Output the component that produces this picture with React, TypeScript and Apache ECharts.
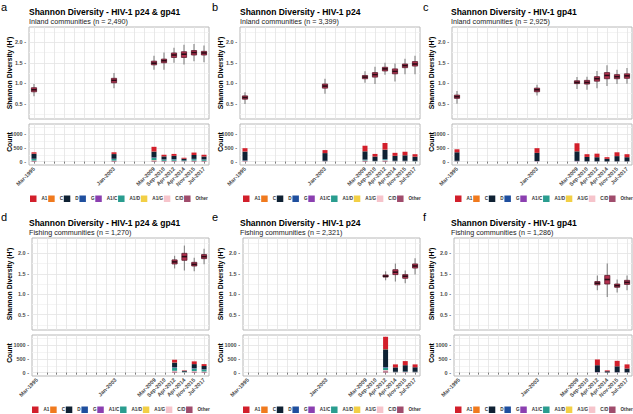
import React, { useEffect, useRef } from 'react';
import * as echarts from 'echarts';

// ---------- DATA ----------
const SLOT_KEYS = Array.from({ length: 18 }, (_, i) => 's' + i);
const ROUNDS = ['Mar-1995', 'Jan-2003', 'Mar-2009', 'Sep-2010', 'Apr-2012', 'Apr-2014', 'Nov-2015', 'Jul-2017'];
const ROUND_SLOT = [0, 8, 12, 13, 14, 15, 16, 17];
const SUBTYPES = ['A1', 'C', 'D', 'G', 'A1/C', 'A1/D', 'A1/G', 'C/D', 'Other'];
const SUBTYPE_COLORS = ['#d21f2b', '#f07a1e', '#0f2133', '#1f4f9e', '#8b3fb0', '#2a9d8f', '#f2cf45', '#f6c4cb', '#a04c6c'];
const SHANNON_TICKS = [0.5, 1.0, 1.5, 2.0];
const COUNT_TICKS = [0, 500, 1000];

const N = null;
// Shannon diversity: median, whisker low/high, box low/high, per round
const a_med = [0.84, 1.07, 1.49, 1.55, 1.69, 1.71, 1.75, 1.74];
const a_lo = [0.68, 0.88, 1.33, 1.33, 1.50, 1.46, 1.54, 1.51];
const a_hi = [0.98, 1.25, 1.67, 1.75, 1.87, 1.94, 1.96, 1.92];
const a_q1 = [0.79, 1.01, 1.45, 1.50, 1.63, 1.63, 1.69, 1.69];
const a_q3 = [0.89, 1.12, 1.54, 1.59, 1.74, 1.77, 1.80, 1.78];

const b_med = [0.65, 0.93, 1.15, 1.21, 1.35, 1.29, 1.43, 1.47];
const b_lo = [0.49, 0.74, 1.01, 0.98, 1.21, 1.04, 1.22, 1.22];
const b_hi = [0.78, 1.11, 1.29, 1.40, 1.50, 1.48, 1.60, 1.67];
const b_q1 = [0.61, 0.88, 1.11, 1.15, 1.30, 1.23, 1.38, 1.42];
const b_q3 = [0.69, 0.98, 1.19, 1.26, 1.39, 1.35, 1.47, 1.53];

const c_med = [0.67, 0.84, 1.02, 1.02, 1.11, 1.19, 1.16, 1.18];
const c_lo = [0.50, 0.70, 0.86, 0.84, 0.88, 0.93, 0.98, 0.99];
const c_hi = [0.81, 0.96, 1.15, 1.16, 1.30, 1.44, 1.33, 1.37];
const c_q1 = [0.63, 0.79, 0.99, 0.98, 1.05, 1.11, 1.11, 1.12];
const c_q3 = [0.71, 0.88, 1.06, 1.07, 1.16, 1.26, 1.21, 1.23];

const d_med = [N, N, N, N, 1.79, 1.92, 1.73, 1.92];
const d_lo = [N, N, N, N, 1.63, 1.58, 1.56, 1.73];
const d_hi = [N, N, N, N, 1.94, 2.19, 1.89, 2.11];
const d_q1 = [N, N, N, N, 1.74, 1.83, 1.69, 1.87];
const d_q3 = [N, N, N, N, 1.84, 2.00, 1.78, 1.97];

const e_med = [N, N, N, N, 1.44, 1.54, 1.44, 1.69];
const e_lo = [N, N, N, N, 1.34, 1.31, 1.27, 1.48];
const e_hi = [N, N, N, N, 1.56, 1.75, 1.58, 1.88];
const e_q1 = [N, N, N, N, 1.42, 1.48, 1.39, 1.64];
const e_q3 = [N, N, N, N, 1.47, 1.60, 1.48, 1.74];

const f_med = [N, N, N, N, 1.27, 1.36, 1.21, 1.29];
const f_lo = [N, N, N, N, 1.10, 0.93, 1.04, 1.10];
const f_hi = [N, N, N, N, 1.46, 1.75, 1.36, 1.46];
const f_q1 = [N, N, N, N, 1.23, 1.25, 1.17, 1.24];
const f_q3 = [N, N, N, N, 1.31, 1.46, 1.25, 1.34];

// Counts per subtype (rows in SUBTYPES order), per round
const a_counts = [
  [50, 60, 170, 60, 70, 35, 90, 65],
  [5, 5, 5, 0, 0, 0, 0, 0],
  [180, 170, 210, 110, 120, 60, 140, 105],
  [5, 5, 10, 3, 5, 3, 5, 4],
  [5, 5, 10, 4, 5, 0, 5, 3],
  [60, 60, 80, 45, 50, 25, 55, 45],
  [0, 0, 5, 0, 0, 0, 0, 0],
  [15, 10, 15, 8, 10, 5, 10, 8],
  [20, 25, 35, 20, 20, 12, 25, 20],
];
const b_counts = [
  [120, 110, 200, 95, 240, 110, 130, 90],
  [5, 0, 5, 0, 5, 0, 0, 0],
  [320, 280, 300, 160, 340, 180, 200, 155],
  [10, 10, 10, 4, 10, 5, 5, 3],
  [0, 0, 0, 0, 0, 0, 0, 0],
  [10, 5, 25, 8, 35, 10, 10, 10],
  [0, 0, 0, 0, 0, 0, 0, 0],
  [10, 5, 15, 5, 20, 5, 5, 4],
  [15, 10, 25, 8, 30, 10, 10, 8],
];
const c_counts = [
  [110, 170, 290, 100, 130, 60, 140, 110],
  [0, 0, 5, 0, 0, 0, 0, 0],
  [310, 300, 350, 160, 150, 93, 190, 150],
  [10, 5, 10, 3, 3, 2, 3, 3],
  [0, 0, 0, 0, 0, 0, 0, 0],
  [5, 0, 0, 0, 0, 0, 0, 0],
  [0, 0, 0, 0, 0, 0, 0, 0],
  [5, 5, 5, 2, 2, 0, 2, 2],
  [10, 10, 10, 5, 5, 5, 5, 5],
];
const d_counts = [
  [N, N, N, N, 100, 15, 100, 70],
  [N, N, N, N, 5, 0, 0, 0],
  [N, N, N, N, 170, 35, 150, 120],
  [N, N, N, N, 10, 0, 8, 5],
  [N, N, N, N, 10, 0, 7, 5],
  [N, N, N, N, 110, 18, 90, 70],
  [N, N, N, N, 0, 0, 0, 0],
  [N, N, N, N, 25, 5, 20, 15],
  [N, N, N, N, 40, 7, 35, 25],
];
const e_counts = [
  [N, N, N, N, 450, 110, 150, 105],
  [N, N, N, N, 10, 0, 0, 0],
  [N, N, N, N, 650, 160, 230, 165],
  [N, N, N, N, 20, 3, 5, 3],
  [N, N, N, N, 10, 0, 0, 0],
  [N, N, N, N, 80, 12, 15, 12],
  [N, N, N, N, 0, 0, 0, 0],
  [N, N, N, N, 40, 5, 8, 5],
  [N, N, N, N, 50, 10, 12, 10],
];
const f_counts = [
  [N, N, N, N, 210, 30, 200, 150],
  [N, N, N, N, 0, 0, 0, 0],
  [N, N, N, N, 250, 45, 215, 140],
  [N, N, N, N, 5, 2, 5, 3],
  [N, N, N, N, 0, 0, 0, 0],
  [N, N, N, N, 0, 0, 0, 0],
  [N, N, N, N, 0, 0, 0, 0],
  [N, N, N, N, 5, 0, 3, 2],
  [N, N, N, N, 10, 3, 7, 5],
];

const TITLES = [
  'Shannon Diversity - HIV-1 p24 & gp41',
  'Shannon Diversity - HIV-1 p24',
  'Shannon Diversity - HIV-1 gp41',
  'Shannon Diversity - HIV-1 p24 & gp41',
  'Shannon Diversity - HIV-1 p24',
  'Shannon Diversity - HIV-1 gp41',
];
const SUBTITLES = [
  'Inland communities (n = 2,490)',
  'Inland communities (n = 3,399)',
  'Inland communities (n = 2,925)',
  'Fishing communities (n = 1,270)',
  'Fishing communities (n = 2,321)',
  'Fishing communities (n = 1,286)',
];
const LETTERS = ['a', 'b', 'c', 'd', 'e', 'f'];

// ---------- LAYOUT ----------
const PANEL_OX = [0, 211, 422, 0, 211, 422];
const PANEL_OY = [0, 0, 0, 211, 211, 211];
const PLOT_LEFT = [29, 240, 452, 32, 243, 454];
const LEGEND_LEFT = [30, 243, 455, 32, 243, 455];
const FONT = 'Liberation Sans, Arial, Helvetica, sans-serif';

const X_LABELS = SLOT_KEYS.map((_, i) => {
  const r = ROUND_SLOT.indexOf(i);
  return r >= 0 ? ROUNDS[r] : '';
});

function buildOption() {
  const shannon = [
    [a_med, a_lo, a_hi, a_q1, a_q3],
    [b_med, b_lo, b_hi, b_q1, b_q3],
    [c_med, c_lo, c_hi, c_q1, c_q3],
    [d_med, d_lo, d_hi, d_q1, d_q3],
    [e_med, e_lo, e_hi, e_q1, e_q3],
    [f_med, f_lo, f_hi, f_q1, f_q3],
  ];
  const counts = [a_counts, b_counts, c_counts, d_counts, e_counts, f_counts];

  const grid: any[] = [];
  const xAxis: any[] = [];
  const yAxis: any[] = [];
  const series: any[] = [];
  const legend: any[] = [];
  const graphic: any[] = [];

  const major = '#e3e3e3';
  const minor = '#f1f1f1';
  const tr = 'rgba(0,0,0,0)';
  const tickLabel = { fontSize: 5.5, color: '#4d4d4d', fontWeight: 'bold', fontFamily: FONT };

  for (let p = 0; p < 6; p++) {
    const ox = PANEL_OX[p];
    const oy = PANEL_OY[p];
    const left = PLOT_LEFT[p];
    const width = ox + 209 - left + (p % 3 === 2 ? 1 : 0);
    const gTop = 2 * p;
    const gBot = 2 * p + 1;

    grid.push({ left, top: oy + 27, width, height: 92, show: true, borderColor: '#b8b8b8', borderWidth: 1, backgroundColor: '#ffffff' });
    grid.push({ left, top: oy + 124, width, height: 41, show: true, borderColor: '#b8b8b8', borderWidth: 1, backgroundColor: '#ffffff' });

    const splitX = { show: true, interval: 0, alignWithLabel: true, lineStyle: { color: major, width: 0.8 } };
    xAxis.push({
      type: 'category', gridIndex: gTop, data: SLOT_KEYS, boundaryGap: true,
      axisLine: { show: false }, axisTick: { show: false }, axisLabel: { show: false },
      splitLine: splitX,
    });
    xAxis.push({
      type: 'category', gridIndex: gBot, data: SLOT_KEYS, boundaryGap: true,
      axisLine: { show: false },
      axisTick: { show: true, interval: 0, alignWithLabel: true, length: 2, lineStyle: { color: '#333333', width: 0.6 } },
      axisLabel: { show: true, interval: 0, rotate: 45, margin: 3, ...tickLabel, formatter: (_v: string, idx: number) => X_LABELS[idx] },
      splitLine: splitX,
    });

    yAxis.push({
      type: 'value', gridIndex: gTop, min: 0.125, max: 2.375, interval: 0.125,
      axisLine: { show: false }, axisTick: { show: false },
      axisLabel: {
        ...tickLabel, margin: 3,
        formatter: (v: number) => (SHANNON_TICKS.some((t) => Math.abs(t - v) < 1e-6) ? v.toFixed(1) + ' -' : ''),
      },
      splitLine: { show: true, lineStyle: { color: [tr, minor, tr, major], width: 0.8 } },
    });
    yAxis.push({
      type: 'value', gridIndex: gBot, min: -125, max: 1375, interval: 125,
      axisLine: { show: false }, axisTick: { show: false },
      axisLabel: {
        ...tickLabel, margin: 3,
        formatter: (v: number) => (COUNT_TICKS.some((t) => Math.abs(t - v) < 1e-6) ? String(v) + ' -' : ''),
      },
      splitLine: { show: true, lineStyle: { color: [tr, major, tr, minor], width: 0.8 } },
    });

    // Shannon boxplots
    const [med, lo, hi, q1, q3] = shannon[p];
    const boxData: any[] = [];
    ROUNDS.forEach((_, r) => {
      if (med[r] == null) return;
      boxData.push([ROUND_SLOT[r], med[r], lo[r], hi[r], q1[r], q3[r]]);
    });
    series.push({
      type: 'custom', xAxisIndex: gTop, yAxisIndex: gTop, silent: true,
      encode: { x: 0, y: 1 },
      data: boxData,
      renderItem: (_params: any, api: any) => {
        const x = api.value(0);
        const pMed = api.coord([x, api.value(1)]);
        const pLo = api.coord([x, api.value(2)]);
        const pHi = api.coord([x, api.value(3)]);
        const pQ1 = api.coord([x, api.value(4)]);
        const pQ3 = api.coord([x, api.value(5)]);
        const w = api.size([1, 0])[0] * 0.52;
        return {
          type: 'group',
          children: [
            { type: 'line', shape: { x1: pHi[0], y1: pHi[1], x2: pLo[0], y2: pLo[1] }, style: { stroke: '#8c8c8c', lineWidth: 1.2 } },
            { type: 'rect', shape: { x: pQ3[0] - w / 2, y: pQ3[1], width: w, height: pQ1[1] - pQ3[1] }, style: { fill: '#b3304e', stroke: '#5a1c2d', lineWidth: 0.8 } },
            { type: 'line', shape: { x1: pMed[0] - w / 2, y1: pMed[1], x2: pMed[0] + w / 2, y2: pMed[1] }, style: { stroke: '#2a0c16', lineWidth: 1.6 } },
          ],
        };
      },
    });

    // Stacked count bars: last subtype at the bottom, A1 on top
    for (let s = SUBTYPES.length - 1; s >= 0; s--) {
      const row = counts[p][s];
      const data = SLOT_KEYS.map((_, i) => {
        const r = ROUND_SLOT.indexOf(i);
        return r >= 0 && row[r] != null ? row[r] : null;
      });
      series.push({
        type: 'bar', name: SUBTYPES[s], xAxisIndex: gBot, yAxisIndex: gBot, stack: 'cnt' + p,
        barWidth: 5, data, silent: true,
        itemStyle: { color: SUBTYPE_COLORS[s] },
      });
    }

    legend.push({
      data: SUBTYPES, left: LEGEND_LEFT[p], top: oy + 195.5, orient: 'horizontal',
      icon: 'rect', itemWidth: 6.5, itemHeight: 6.5, itemGap: 0.8, selectedMode: false, padding: 0,
      textStyle: { fontSize: 4.6, fontWeight: 'bold', color: '#333333', fontFamily: FONT },
    });

    graphic.push({
      type: 'text', x: ox + 1, y: oy + (p < 3 ? 1 : 0),
      style: { text: LETTERS[p], fontSize: 11, fontFamily: FONT, fill: '#000', textAlign: 'left', textVerticalAlign: 'top', verticalAlign: 'top' },
    });
    graphic.push({
      type: 'text', x: ox + 29, y: oy + 11.5,
      style: { text: TITLES[p], fontSize: 8.5, fontWeight: 'bold', fontFamily: FONT, fill: '#000', textAlign: 'left', textVerticalAlign: 'middle', verticalAlign: 'middle' },
    });
    graphic.push({
      type: 'text', x: ox + 29, y: oy + 21,
      style: { text: SUBTITLES[p], fontSize: 7.2, fontFamily: FONT, fill: '#1a1a1a', textAlign: 'left', textVerticalAlign: 'middle', verticalAlign: 'middle' },
    });
    graphic.push({
      type: 'text', x: ox + 9.5, y: oy + 73, rotation: Math.PI / 2,
      style: { text: "Shannon Diversity (H')", fontSize: 6.8, fontWeight: 'bold', fontFamily: FONT, fill: '#000', textAlign: 'center', textVerticalAlign: 'middle', verticalAlign: 'middle' },
    });
    graphic.push({
      type: 'text', x: ox + 9.5, y: oy + 142, rotation: Math.PI / 2,
      style: { text: 'Count', fontSize: 6.8, fontWeight: 'bold', fontFamily: FONT, fill: '#000', textAlign: 'center', textVerticalAlign: 'middle', verticalAlign: 'middle' },
    });
  }

  return {
    animation: false,
    backgroundColor: '#ffffff',
    grid, xAxis, yAxis, series, legend, graphic,
  };
}

export default function App() {
  const ref = useRef<HTMLDivElement>(null);
  useEffect(() => {
    document.body.style.margin = '0';
    if (!ref.current) return;
    const chart = echarts.init(ref.current, undefined, { renderer: 'svg' });
    chart.setOption(buildOption() as any);
    return () => chart.dispose();
  }, []);
  return <div ref={ref} style={{ width: 633, height: 414 }} />;
}
